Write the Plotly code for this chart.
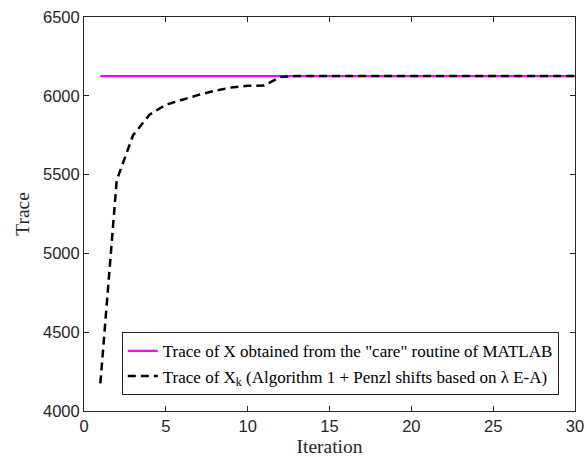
import plotly.graph_objects as go

iterations = list(range(1, 31))
care_trace = [6125] * 30
xk_trace = [4175, 5465, 5750, 5880, 5943, 5975, 6006, 6032, 6053, 6063, 6065, 6120,
            6125, 6125, 6125, 6125, 6125, 6125, 6125, 6125, 6125, 6125, 6125, 6125,
            6125, 6125, 6125, 6125, 6125, 6125]
x_ticks = [0, 5, 10, 15, 20, 25, 30]
y_ticks = [4000, 4500, 5000, 5500, 6000, 6500]

fig = go.Figure()
fig.add_trace(go.Scatter(x=iterations, y=care_trace, mode="lines",
                         line=dict(color="#ff00ff", width=2.2),
                         name='Trace of X obtained from the "care" routine of MATLAB'))
fig.add_trace(go.Scatter(x=iterations, y=xk_trace, mode="lines",
                         line=dict(color="black", width=2.5, dash="8px,5px"),
                         name="Trace of X<sub>k</sub> (Algorithm 1 + Penzl shifts based on \u03bb E-A)"))

axis_common = dict(showline=True, linecolor="#262626", linewidth=1, mirror="allticks",
                   ticks="inside", ticklen=5, tickcolor="#262626", showgrid=False,
                   zeroline=False, automargin=False, ticklabeloverflow="allow",
                   tickfont=dict(family="Liberation Sans, Arial", size=16.5, color="#262626"))
title_font = dict(family="Liberation Serif, Times New Roman", size=19.5, color="#262626")
fig.update_layout(
    width=587, height=457,
    margin=dict(l=84, r=12, t=17, b=46),
    paper_bgcolor="white", plot_bgcolor="white",
    xaxis=dict(range=[0, 30], tickvals=x_ticks,
               title=dict(text="Iteration", standoff=7, font=title_font),
               **axis_common),
    yaxis=dict(range=[4000, 6500], tickvals=y_ticks,
               title=dict(text="Trace", standoff=8, font=title_font),
               **axis_common),
    legend=dict(x=0.967, y=0.04, xanchor="right", yanchor="bottom",
                bgcolor="white", bordercolor="#262626", borderwidth=1,
                font=dict(family="Liberation Serif, Times New Roman", size=17, color="black"),
                tracegroupgap=0, itemwidth=30),
    showlegend=True,
)
fig.write_html(
    "out.html",
    config={"displayModeBar": False},
    post_script="document.body.style.margin='0';document.body.style.overflow='hidden';"
                "document.documentElement.style.overflow='hidden';",
)
